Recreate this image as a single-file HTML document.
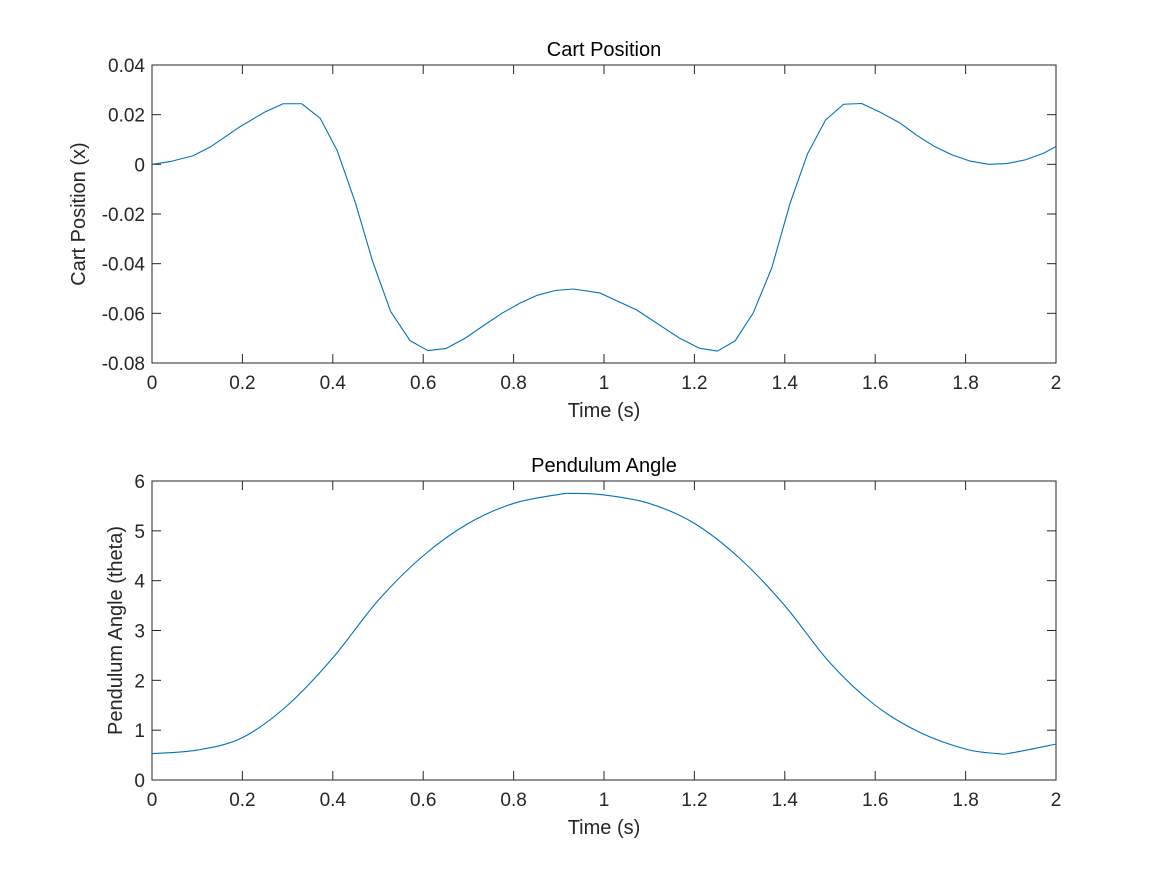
<!DOCTYPE html>
<html><head><meta charset="utf-8"><style>
html,body{margin:0;padding:0;background:#fff;}
svg{display:block;font-family:"Liberation Sans",Arial,sans-serif;}
</style></head><body>
<svg id="fig" width="1167" height="875" viewBox="0 0 1167 875" xmlns="http://www.w3.org/2000/svg"></svg>
<script>
const cartTimes=[0,0.04,0.09,0.13,0.195,0.25,0.29,0.331,0.372,0.41,0.45,0.488,0.528,0.571,0.61,0.65,0.693,0.733,0.774,0.814,0.851,0.892,0.932,0.991,1.072,1.168,1.212,1.251,1.29,1.33,1.371,1.412,1.45,1.49,1.53,1.57,1.61,1.655,1.692,1.729,1.77,1.81,1.851,1.891,1.932,1.973,2.0];
const cartValues=[0,0.0011,0.0034,0.0071,0.0152,0.0211,0.0244,0.0244,0.0186,0.0054,-0.0155,-0.039,-0.0593,-0.071,-0.075,-0.0742,-0.070,-0.065,-0.060,-0.0559,-0.0528,-0.0508,-0.0502,-0.0518,-0.0586,-0.0701,-0.0741,-0.0752,-0.0711,-0.0599,-0.0418,-0.0155,0.0041,0.0178,0.0242,0.0245,0.0211,0.0166,0.0117,0.0074,0.0038,0.0013,0,0.0003,0.0018,0.0045,0.0072];
const angleTimes=[0,0.1,0.2,0.3,0.4,0.5,0.6,0.7,0.8,0.9,0.93,1.0,1.1,1.2,1.3,1.4,1.5,1.6,1.7,1.8,1.87,1.9,2.0];
const angleValues=[0.53,0.6,0.85,1.5,2.45,3.6,4.5,5.15,5.55,5.73,5.75,5.72,5.55,5.15,4.45,3.5,2.35,1.5,0.95,0.62,0.53,0.54,0.72];
const xTicks=[0,0.2,0.4,0.6,0.8,1,1.2,1.4,1.6,1.8,2];
const cartYTicks=[-0.08,-0.06,-0.04,-0.02,0,0.02,0.04];
const cartYLabels=["-0.08","-0.06","-0.04","-0.02","0","0.02","0.04"];
const angleYTicks=[0,1,2,3,4,5,6];

const NS="http://www.w3.org/2000/svg";
const svg=document.getElementById('fig');
function mk(tag,attrs,parent){const e=document.createElementNS(NS,tag);for(const k in attrs)e.setAttribute(k,attrs[k]);(parent||svg).appendChild(e);return e;}

function drawPanel(p){
  const g=mk('g',{});
  
  
  const L=152,R=1056,T=p.top,B=p.bottom;
  const sx=v=>L+(v-0)/(2-0)*(R-L);
  const sy=v=>B-(v-p.ymin)/(p.ymax-p.ymin)*(B-T);
  const box=mk('rect',{x:L,y:T,width:R-L,height:B-T,fill:'#fff',stroke:'#262626','stroke-width':1},g);
  
  
  xTicks.forEach(t=>{
    const x=sx(t);
    mk('line',{x1:x,y1:B,x2:x,y2:B-9,stroke:'#262626'},g);
    mk('line',{x1:x,y1:T,x2:x,y2:T+9,stroke:'#262626'},g);
    const tx=mk('text',{x:x,y:B+26,'font-size':19,'text-anchor':'middle',fill:'#262626'},g);
    tx.textContent=String(t);
    
    
  });
  p.yticks.forEach((t,i)=>{
    const y=sy(t);
    mk('line',{x1:L,y1:y,x2:L+9,y2:y,stroke:'#262626'},g);
    mk('line',{x1:R,y1:y,x2:R-9,y2:y,stroke:'#262626'},g);
    const tx=mk('text',{x:L-7,y:y+7,'font-size':19,'text-anchor':'end',fill:'#262626'},g);
    tx.textContent=p.ylabels[i];
    
    
  });
  const pts=p.times.map((t,i)=>[sx(t),sy(p.values[i])]);
  let d='M'+pts[0][0].toFixed(2)+','+pts[0][1].toFixed(2);
  for(let i=0;i<pts.length-1;i++){
    if(!p.smooth){d+='L'+pts[i+1][0].toFixed(2)+','+pts[i+1][1].toFixed(2);continue;}
    const p0=pts[Math.max(0,i-1)],p1=pts[i],p2=pts[i+1],p3=pts[Math.min(pts.length-1,i+2)];
    const c1=[p1[0]+(p2[0]-p0[0])/6,p1[1]+(p2[1]-p0[1])/6];
    const c2=[p2[0]-(p3[0]-p1[0])/6,p2[1]-(p3[1]-p1[1])/6];
    d+='C'+c1.map(v=>v.toFixed(2)).join(',')+' '+c2.map(v=>v.toFixed(2)).join(',')+' '+p2.map(v=>v.toFixed(2)).join(',');
  }
  const line=mk('path',{d:d,fill:'none',stroke:'#0072BD','stroke-width':1.1,'stroke-linejoin':'round'},g);
  
  
  const title=mk('text',{x:(L+R)/2,y:T-9,'font-size':20,'text-anchor':'middle',fill:'#000'},g);
  title.textContent=p.title;
  
  
  const xt=mk('text',{x:(L+R)/2,y:B+54,'font-size':20,'text-anchor':'middle',fill:'#262626'},g);
  xt.textContent='Time (s)';
  
  
  const yc=(T+B)/2;
  const yt=mk('text',{x:p.ytitleX,y:yc,'font-size':20,'text-anchor':'middle',fill:'#262626',transform:`rotate(-90 ${p.ytitleX} ${yc})`},g);
  yt.textContent=p.ytitle;
  
  
}
drawPanel({name:'cart-position-panel',lineName:'cart-position-line',top:65,bottom:363,ymin:-0.08,ymax:0.04,yticks:cartYTicks,ylabels:cartYLabels,times:cartTimes,values:cartValues,title:'Cart Position',ytitle:'Cart Position (x)',ytitleX:85,smooth:false});
drawPanel({name:'pendulum-angle-panel',lineName:'pendulum-angle-line',top:481,bottom:780,ymin:0,ymax:6,yticks:angleYTicks,ylabels:angleYTicks.map(String),times:angleTimes,values:angleValues,title:'Pendulum Angle',ytitle:'Pendulum Angle (theta)',ytitleX:122,smooth:true});
</script>
</body></html>
